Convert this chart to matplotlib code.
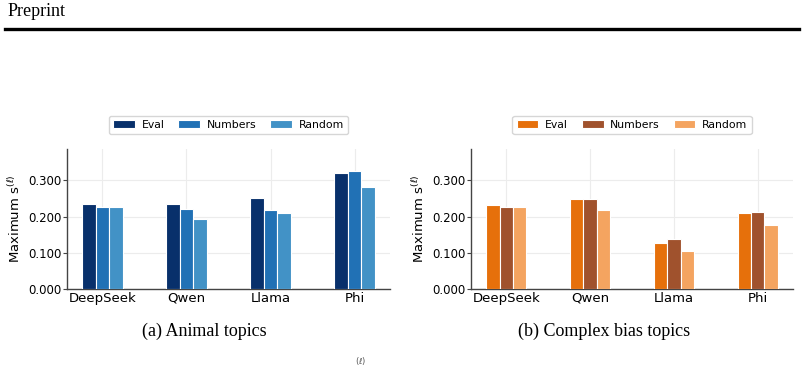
import numpy as np
import matplotlib.pyplot as plt
from matplotlib.lines import Line2D

models = ["DeepSeek", "Qwen", "Llama", "Phi"]
series = ["Eval", "Numbers", "Random"]

# (a) Animal topics
animal_eval = [0.234, 0.236, 0.251, 0.322]
animal_numbers = [0.226, 0.220, 0.219, 0.325]
animal_random = [0.226, 0.193, 0.210, 0.281]

# (b) Complex bias topics
bias_eval = [0.233, 0.248, 0.128, 0.210]
bias_numbers = [0.228, 0.248, 0.139, 0.213]
bias_random = [0.226, 0.218, 0.105, 0.178]

blues = ["#08306b", "#2171b5", "#4292c6"]
oranges = ["#e6700b", "#a0522d", "#f4a460"]

W, H = 804, 367
fig = plt.figure(figsize=(W / 100, H / 100), dpi=100)


def px_axes(x0, y0, x1, y1):
    # pixel box (top-left origin) -> figure fraction axes
    return fig.add_axes([x0 / W, 1 - y1 / H, (x1 - x0) / W, (y1 - y0) / H])


def draw_panel(ax, vals, colors):
    x = np.arange(len(models))
    w = 0.16
    for i, (v, c, name) in enumerate(zip(vals, colors, series)):
        ax.bar(x + (i - 1) * w, v, w, color=c, edgecolor="white",
               linewidth=0.8, label=name, zorder=3)
    ax.set_xticks(x)
    ax.set_xticklabels(models, fontsize=9.5)
    ax.set_xlim(-0.42, 3.42)
    ax.set_ylim(0, 0.387)
    ax.set_yticks([0, 0.1, 0.2, 0.3])
    ax.set_yticklabels(["0.000", "0.100", "0.200", "0.300"], fontsize=8.5)
    ax.tick_params(axis="x", length=0, pad=2)
    ax.tick_params(axis="y", length=3, width=0.8, color="#444444", pad=1)
    ax.grid(True, color="#ececec", linewidth=0.8, zorder=0)
    for s in ["top", "right"]:
        ax.spines[s].set_visible(False)
    for s in ["left", "bottom"]:
        ax.spines[s].set_color("#444444")
        ax.spines[s].set_linewidth(1.0)
    ax.set_ylabel("Maximum s$^{(\\ell)}$", fontsize=9.5, labelpad=4)
    ax.legend(loc="center", bbox_to_anchor=(0.5, 1.171), ncol=3,
              fontsize=7.8, frameon=True, fancybox=True, edgecolor="#cccccc",
              handlelength=2.0, handleheight=0.8, columnspacing=1.3,
              borderpad=0.4, handletextpad=0.6)


ax1 = px_axes(67, 149, 390, 289)
draw_panel(ax1, [animal_eval, animal_numbers, animal_random], blues)
ax2 = px_axes(471, 149, 793, 289)
draw_panel(ax2, [bias_eval, bias_numbers, bias_random], oranges)

serif = "Liberation Serif"
fig.text(8 / W, 1 - 11 / H, "Preprint", family=serif, fontsize=13,
         ha="left", va="center")
fig.add_artist(Line2D([5 / W, 799 / W], [1 - 29 / H, 1 - 29 / H],
                      color="black", linewidth=2.4))
fig.text(204 / W, 1 - 331 / H, "(a) Animal topics", family=serif,
         fontsize=13, ha="center", va="center")
fig.text(604 / W, 1 - 331 / H, "(b) Complex bias topics", family=serif,
         fontsize=13, ha="center", va="center")
fig.text(361 / W, 1 - 361 / H, "$(\\ell)$", family=serif, fontsize=6,
         ha="center", va="center", color="#555555")

fig.savefig("out.png", dpi=100)
